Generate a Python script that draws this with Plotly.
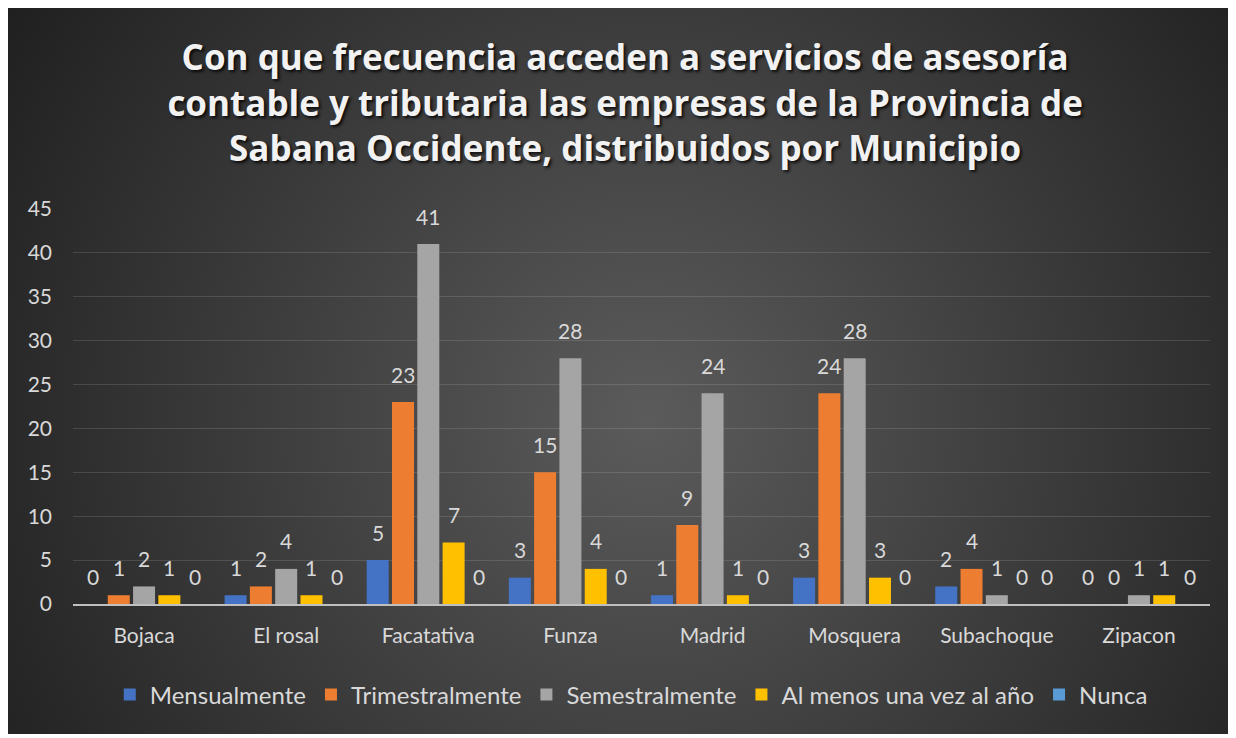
import base64
import plotly.graph_objects as go

categories = ["Bojaca", "El rosal", "Facatativa", "Funza", "Madrid", "Mosquera", "Subachoque", "Zipacon"]
series_names = ["Mensualmente", "Trimestralmente", "Semestralmente", "Al menos una vez al año", "Nunca"]
mensualmente = [0, 1, 5, 3, 1, 3, 2, 0]
trimestralmente = [1, 2, 23, 15, 9, 24, 4, 0]
semestralmente = [2, 4, 41, 28, 24, 28, 1, 1]
al_menos_anual = [1, 1, 7, 4, 1, 3, 0, 1]
nunca = [0, 0, 0, 0, 0, 0, 0, 0]
series_values = [mensualmente, trimestralmente, semestralmente, al_menos_anual, nunca]
colors = ["#4472C4", "#ED7D31", "#A5A5A5", "#FFC000", "#5B9BD5"]

title_text = ("Con que frecuencia acceden a servicios de asesoría<br>"
              "contable y tributaria las empresas de la Provincia de<br>"
              "Sabana Occidente, distribuidos por Municipio")

FONT = "Lato"
LABEL_COLOR = "#d9d9d9"
BARGAP = 0.11
BARGROUPGAP = 0.13

FW, FH = 1222, 726

fig = go.Figure()
for name, vals, col in zip(series_names, series_values, colors):
    fig.add_trace(go.Bar(x=categories, y=vals, name=name,
                         marker=dict(color=col, line=dict(width=0))))

# data labels above bars
n = len(series_names)
slot = (1 - BARGAP) / n
annotations = []
for i, vals in enumerate(series_values):
    for j, v in enumerate(vals):
        annotations.append(dict(x=j + (i - (n - 1) / 2) * slot, y=v, xref="x", yref="y",
                                text=str(v), showarrow=False, yshift=28,
                                font=dict(family=FONT, size=21, color=LABEL_COLOR)))

# radial gradient background
svg = (f'<svg xmlns="http://www.w3.org/2000/svg" width="{FW}" height="{FH}">'
       f'<defs><radialGradient id="g" gradientUnits="userSpaceOnUse" cx="640" cy="410" r="770">'
       f'<stop offset="0" stop-color="#5b5b5b"/><stop offset="1" stop-color="#1f1f1f"/>'
       f'</radialGradient></defs><rect width="{FW}" height="{FH}" fill="url(#g)"/></svg>')
src = "data:image/svg+xml;base64," + base64.b64encode(svg.encode()).decode()

L, R, T, B = 65, 20, 201, 130
pw = FW - L - R
ph = FH - T - B
img = dict(source=src, xref="paper", yref="paper",
           x=-L / pw, y=1 + T / ph,
           sizex=FW / pw, sizey=FH / ph, sizing="stretch",
           xanchor="left", yanchor="top", layer="below")

fig.update_layout(
    width=FW, height=FH,
    margin=dict(l=L, r=R, t=T, b=B),
    paper_bgcolor="#1f1f1f", plot_bgcolor="rgba(0,0,0,0)",
    barmode="group", bargap=BARGAP, bargroupgap=BARGROUPGAP,
    images=[img],
    annotations=annotations,
    title=dict(text=title_text, x=0.505, xref="container", xanchor="center",
               y=1 - 62 / FH, yref="container", yanchor="top",
               font=dict(family="Open Sans", size=35, color="#f2f2f2", weight="bold",
                         shadow="2px 2px 3px rgba(0,0,0,0.8)")),
    font=dict(family=FONT, color=LABEL_COLOR),
    legend=dict(orientation="h", x=0.491, xanchor="center", y=-0.23, yanchor="middle",
                font=dict(family=FONT, size=24, color=LABEL_COLOR),
                bgcolor="rgba(0,0,0,0)", itemclick=False),
    showlegend=True,
)
fig.update_xaxes(type="category", showline=True, linecolor="#bfbfbf", linewidth=2,
                 showgrid=False, tickfont=dict(family=FONT, size=21, color=LABEL_COLOR),
                 ticks="", ticklabelstandoff=12)
fig.update_yaxes(range=[0, 45], dtick=5, showgrid=True, gridcolor="rgba(217,217,217,0.16)",
                 gridwidth=1, zeroline=False, showline=False,
                 tickfont=dict(family=FONT, size=21, color=LABEL_COLOR),
                 ticks="", ticklabelstandoff=20)

fig.write_html("out.html")
